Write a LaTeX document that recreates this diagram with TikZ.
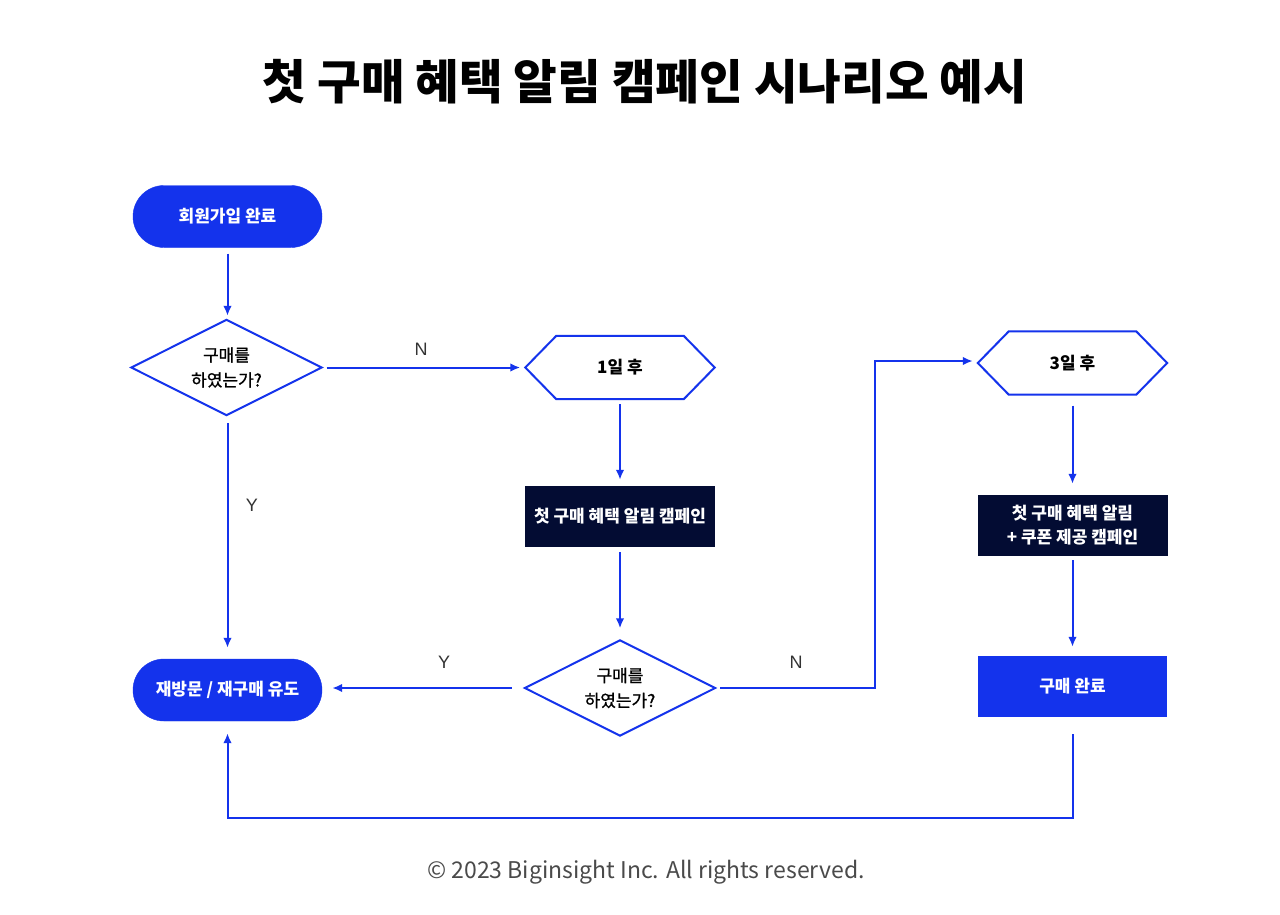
\documentclass[tikz,border=0pt]{standalone}
\usepackage{fontspec}
\setmainfont{Noto Sans CJK KR}
\newfontfamily\latinlbl{Liberation Sans}
\newfontfamily\krsemi{Noto Sans CJK KR}[FakeBold=1]
\usetikzlibrary{shapes.geometric,shapes.misc,arrows.meta}
\definecolor{flowblue}{HTML}{1433EC}
\definecolor{darknavy}{HTML}{030C33}
\definecolor{footgray}{HTML}{4A4A4A}
\begin{document}
\begin{tikzpicture}[x=1pt,y=-1pt,
  conn/.style={draw=flowblue,line width=2pt,-{Latex[length=10pt,width=8.5pt]}},
  plainline/.style={draw=flowblue,line width=2pt,line join=miter},
  stadium/.style={rounded rectangle,fill=flowblue,draw=flowblue,minimum width=189pt,minimum height=62pt,text=white,font=\bfseries\fontsize{17}{20}\selectfont,inner sep=0pt},
  decision/.style={rectangle,minimum width=190pt,minimum height=95pt,inner sep=0pt,align=center,font=\krsemi\fontsize{17}{25}\selectfont},
  hexbox/.style={minimum width=189pt,minimum height=63pt,inner sep=0pt,font=\bfseries\fontsize{17}{20}\selectfont},
  darkbox/.style={rectangle,fill=darknavy,minimum width=190pt,minimum height=61pt,text=white,inner sep=0pt,align=center,font=\bfseries\fontsize{17}{24}\selectfont},
  bluebox/.style={rectangle,fill=flowblue,minimum width=189pt,minimum height=61pt,text=white,inner sep=0pt,font=\bfseries\fontsize{17}{20}\selectfont},
  yn/.style={font=\latinlbl\fontsize{18}{20}\selectfont,text=black!80}
]
\useasboundingbox[fill=white] (0,0) rectangle (1280,914);

% title
\node[font=\bfseries\fontsize{47.5}{54}\selectfont] (title) at (645,82) {첫 구매 혜택 알림 캠페인 시나리오 예시};

% nodes
\node[stadium] (join) at (227.5,216.5) {회원가입 완료};
\node[decision] (d1) at (226.5,367.5) {구매를\\하였는가?};
\draw[plainline] (d1.west) -- (d1.north) -- (d1.east) -- (d1.south) -- cycle;
\node[hexbox] (h1) at (620,367.5) {1일 후};
\draw[plainline] (h1.west) -- ([xshift=31pt]h1.north west) -- ([xshift=-31pt]h1.north east) -- (h1.east) -- ([xshift=-31pt]h1.south east) -- ([xshift=31pt]h1.south west) -- cycle;
\node[darkbox] (c1) at (620,516.5) {첫 구매 혜택 알림 캠페인};
\node[decision] (d2) at (620,688) {구매를\\하였는가?};
\draw[plainline] (d2.west) -- (d2.north) -- (d2.east) -- (d2.south) -- cycle;
\node[stadium] (revisit) at (227.5,690) {재방문 / 재구매 유도};
\node[hexbox] (h3) at (1072.5,363) {3일 후};
\draw[plainline] (h3.west) -- ([xshift=31pt]h3.north west) -- ([xshift=-31pt]h3.north east) -- (h3.east) -- ([xshift=-31pt]h3.south east) -- ([xshift=31pt]h3.south west) -- cycle;
\node[darkbox] (c3) at (1072.5,525.5) {첫 구매 혜택 알림\\+ 쿠폰 제공 캠페인};
\node[bluebox] (done) at (1072.5,686.5) {구매 완료};

% connectors
\draw[conn,shorten <=6pt,shorten >=4pt] (join.south) -- (join.south |- d1.north);
\draw[conn,shorten <=5pt,shorten >=5pt] (d1.east) -- (h1.west);
\node[yn] (nlbl1) at (421,349) {N};
\draw[conn,shorten <=5pt,shorten >=6pt] (h1.south) -- (c1.north);
\draw[conn,shorten <=5pt,shorten >=12pt] (c1.south) -- (d2.north);
\draw[conn,shorten <=8pt,shorten >=11pt] (d1.south -| revisit.north) -- (revisit.north);
\node[yn] (ylbl1) at (252,505) {Y};
\draw[conn,shorten <=13pt,shorten >=10pt] (d2.west) -- (d2.west -| revisit.east);
\node[yn] (ylbl2) at (444,662) {Y};
\coordinate (bendA) at (875,688);
\draw[conn,shorten <=5pt,shorten >=5pt] (d2.east) -- (bendA) |- ([yshift=2pt]h3.west);
\node[yn] (nlbl2) at (796,662) {N};
\draw[conn,shorten <=11pt,shorten >=11pt] (h3.south) -- (c3.north);
\draw[conn,shorten <=4pt,shorten >=9pt] (c3.south) -- (done.north);
\coordinate (retY) at (0,818);
\draw[conn,shorten <=17pt,shorten >=12pt] (done.south) -- (done.south |- retY) -- (revisit.south |- retY) -- (revisit.south);

% footer
\node[text=footgray,font=\fontsize{23}{28}\selectfont] (foot) at (646,872) {© 2023 Biginsight Inc. All rights reserved.};
\end{tikzpicture}
\end{document}
